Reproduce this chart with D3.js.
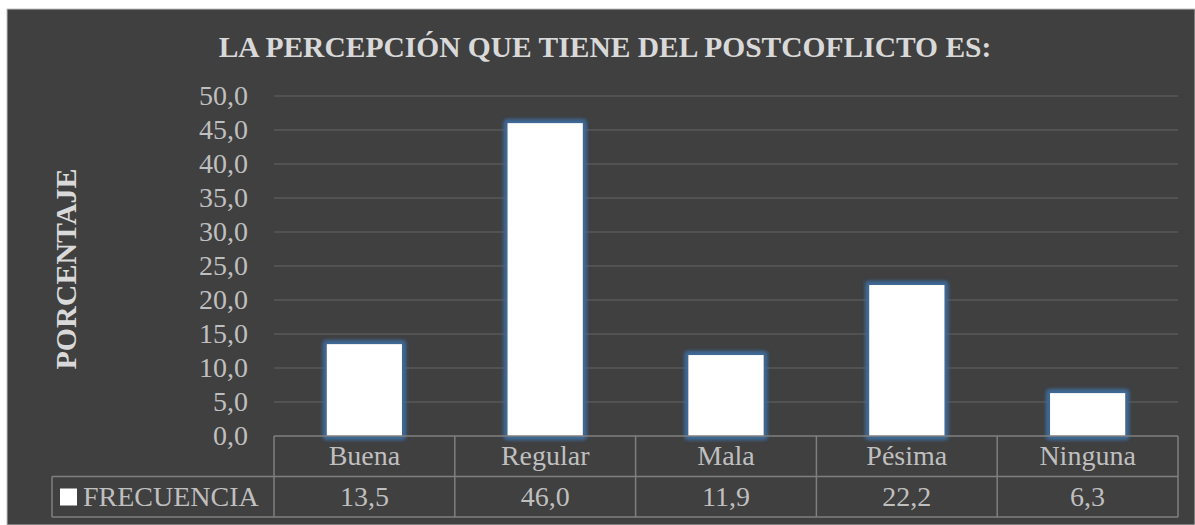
<!DOCTYPE html>
<html lang="es">
<head>
<meta charset="utf-8">
<title>Percepción del postconflicto</title>
<script src="https://cdn.jsdelivr.net/npm/d3@7"></script>
<style>
  html, body { margin: 0; padding: 0; background: #fff; }
  svg { display: block; }
</style>
</head>
<body>
<svg id="chart" width="1195" height="525"></svg>
<script>
// data
const categories = ["Buena", "Regular", "Mala", "Pésima", "Ninguna"];
const frecuencia = [13.5, 46.0, 11.9, 22.2, 6.3];
const yTicks = [0, 5, 10, 15, 20, 25, 30, 35, 40, 45, 50];
const seriesName = "FRECUENCIA";
const chartTitle = "LA PERCEPCIÓN QUE TIENE DEL POSTCOFLICTO ES:";
const yTitle = "PORCENTAJE";

const W = 1195, H = 525;
const plot = {left: 274, right: 1178, top: 96, bottom: 436};
const rowH = 40.5;
const legendLeft = 52;
const fmt = v => v.toFixed(1).replace(".", ",");
const serif = '"Liberation Serif"';
const txtSize = 28;

const svg = d3.select("#chart");

// background panel
svg.append("rect").attr("x", 7).attr("y", 9).attr("width", W - 7).attr("height", H - 9)
  .attr("fill", "#404040").attr("stroke", "#bfbfbf").attr("stroke-width", 1);

// glow filter for bars
const defs = svg.append("defs");
const f = defs.append("filter").attr("id", "glow")
  .attr("x", "-30%").attr("y", "-30%").attr("width", "160%").attr("height", "160%");
f.append("feMorphology").attr("in", "SourceAlpha").attr("operator", "dilate").attr("radius", 2.5).attr("result", "d");
f.append("feGaussianBlur").attr("in", "d").attr("stdDeviation", 2.2).attr("result", "b");
f.append("feFlood").attr("flood-color", "#3f6a98").attr("result", "c");
f.append("feComposite").attr("in", "c").attr("in2", "b").attr("operator", "in").attr("result", "g");
const fm = f.append("feMerge");
fm.append("feMergeNode").attr("in", "g");
fm.append("feMergeNode").attr("in", "g");
fm.append("feMergeNode").attr("in", "SourceGraphic");

const x = d3.scaleBand().domain(categories).range([plot.left, plot.right]).paddingInner(0.585).paddingOuter(0.2925);
const y = d3.scaleLinear().domain([0, 50]).range([plot.bottom, plot.top]);

// gridlines
svg.append("g").selectAll("line").data(yTicks.filter(d => d > 0)).join("line")
  .attr("x1", plot.left).attr("x2", plot.right)
  .attr("y1", d => y(d)).attr("y2", d => y(d))
  .attr("stroke", "#595959").attr("stroke-width", 1.5);

// y axis labels
const yAxis = svg.append("g").attr("transform", `translate(${plot.left},0)`)
  .call(d3.axisLeft(y).tickValues(yTicks).tickFormat(fmt).tickSize(0).tickPadding(26));
yAxis.select(".domain").remove();
yAxis.selectAll("text").attr("fill", "#bfbfbf").attr("font-size", txtSize).style("font-family", serif);

// bars
svg.append("g").selectAll("rect").data(frecuencia).join("rect")
  .attr("x", (d, i) => x(categories[i]))
  .attr("width", x.bandwidth())
  .attr("y", d => y(d))
  .attr("height", d => y(0) - y(d))
  .attr("fill", "#ffffff")
  .attr("filter", "url(#glow)");

// data table
const tbl = svg.append("g").attr("fill", "none").attr("stroke", "#7f7f7f").attr("stroke-width", 1.5);
const step = x.step();
tbl.append("line").attr("x1", plot.left).attr("x2", plot.right).attr("y1", plot.bottom).attr("y2", plot.bottom);
tbl.append("line").attr("x1", legendLeft).attr("x2", plot.right).attr("y1", plot.bottom + rowH).attr("y2", plot.bottom + rowH);
tbl.append("line").attr("x1", legendLeft).attr("x2", plot.right).attr("y1", plot.bottom + 2 * rowH).attr("y2", plot.bottom + 2 * rowH);
tbl.append("line").attr("x1", legendLeft).attr("x2", legendLeft).attr("y1", plot.bottom + rowH).attr("y2", plot.bottom + 2 * rowH);
tbl.selectAll("line.v").data(d3.range(categories.length + 1)).join("line").attr("class", "v")
  .attr("x1", i => plot.left + i * step).attr("x2", i => plot.left + i * step)
  .attr("y1", plot.bottom).attr("y2", plot.bottom + 2 * rowH);

const cx = c => x(c) + x.bandwidth() / 2;
svg.append("g").selectAll("text").data(categories).join("text")
  .attr("x", d => cx(d)).attr("y", plot.bottom + 29)
  .attr("text-anchor", "middle").attr("fill", "#bfbfbf")
  .attr("font-size", txtSize).style("font-family", serif).text(d => d);
svg.append("g").selectAll("text").data(frecuencia).join("text")
  .attr("x", (d, i) => cx(categories[i])).attr("y", plot.bottom + rowH + 29)
  .attr("text-anchor", "middle").attr("fill", "#bfbfbf")
  .attr("font-size", txtSize).style("font-family", serif).text(d => fmt(d));

// legend key
svg.append("rect").attr("x", 60).attr("y", plot.bottom + rowH + 12).attr("width", 17).attr("height", 17).attr("fill", "#fff");
svg.append("text").attr("x", 83).attr("y", plot.bottom + rowH + 29)
  .attr("fill", "#bfbfbf").attr("font-size", txtSize).style("font-family", serif).text(seriesName);

// titles
svg.append("text").attr("x", 605).attr("y", 57).attr("text-anchor", "middle")
  .attr("fill", "#d9d9d9").attr("font-weight", "bold").attr("font-size", 29.5).style("font-family", serif)
  .text(chartTitle);
svg.append("text").attr("transform", "translate(76,269) rotate(-90)").attr("text-anchor", "middle")
  .attr("fill", "#d9d9d9").attr("font-weight", "bold").attr("font-size", 30).style("font-family", serif)
  .text(yTitle);
</script>
</body>
</html>
